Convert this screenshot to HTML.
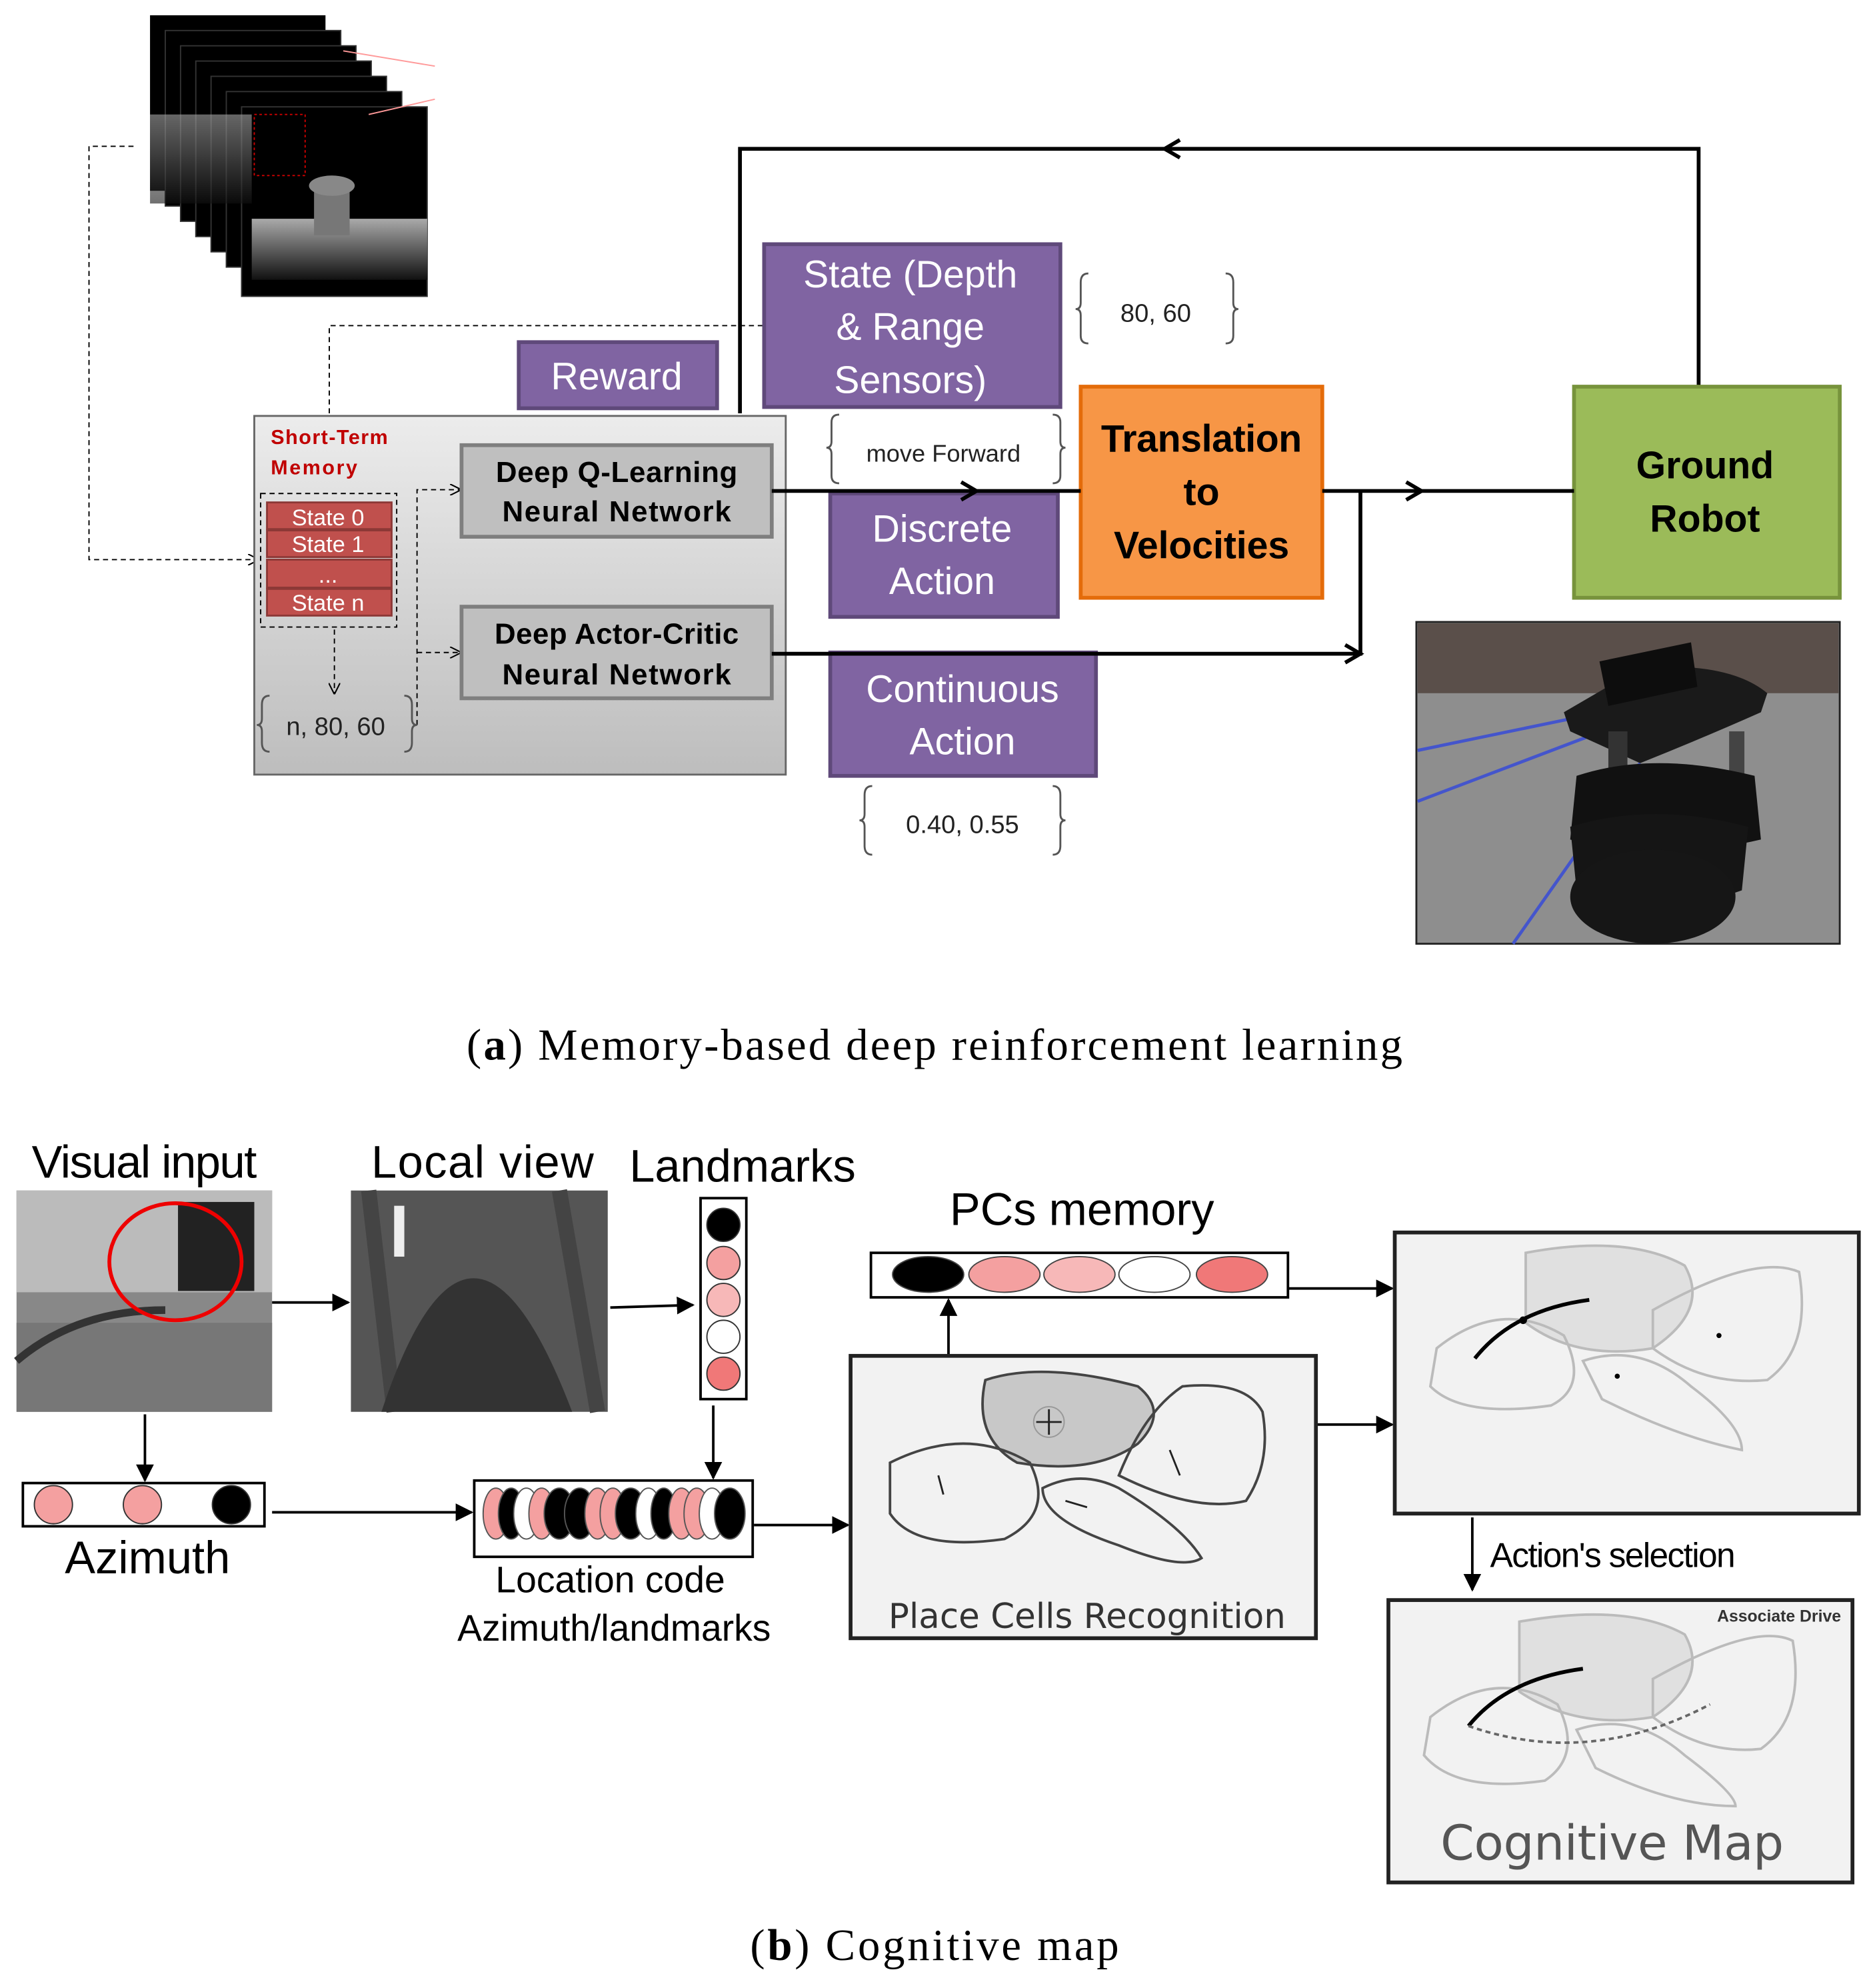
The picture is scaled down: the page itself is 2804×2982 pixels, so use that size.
<!DOCTYPE html>
<html><head><meta charset="utf-8"><style>html,body{margin:0;padding:0;background:#fff}svg{display:block}</style></head>
<body>
<svg width="2804" height="2982" viewBox="0 0 1470 1563" preserveAspectRatio="none" xmlns="http://www.w3.org/2000/svg" font-family="Liberation Sans, sans-serif">
<defs>
<linearGradient id="gg" x1="0" y1="0" x2="0" y2="1"><stop offset="0" stop-color="#ececec"/><stop offset="1" stop-color="#bdbdbd"/></linearGradient>
<linearGradient id="fl" x1="0" y1="0" x2="0" y2="1"><stop offset="0" stop-color="#aaa"/><stop offset="1" stop-color="#111"/></linearGradient>
<marker id="ah" viewBox="0 0 10 10" refX="9" refY="5" markerWidth="7" markerHeight="7" orient="auto"><path d="M0,0L10,5L0,10z" fill="#000"/></marker>
<marker id="ao" viewBox="0 0 10 10" refX="9" refY="5" markerWidth="9" markerHeight="9" orient="auto"><path d="M0,0L10,5L0,10" fill="none" stroke="#000" stroke-width="1.2"/></marker>
</defs>
<!-- depth stack -->
<g>
<rect x="118" y="12" width="138" height="138" fill="#000"/>
<rect x="130" y="24" width="138" height="138" fill="#000" stroke="#333"/>
<rect x="142" y="36" width="138" height="138" fill="#000" stroke="#333"/>
<rect x="154" y="48" width="138" height="138" fill="#000" stroke="#333"/>
<rect x="166" y="60" width="138" height="138" fill="#000" stroke="#333"/>
<rect x="178" y="72" width="138" height="138" fill="#000" stroke="#333"/>
<rect x="190" y="84" width="146" height="149" fill="#000" stroke="#333"/>
<rect x="118" y="90" width="80" height="70" fill="url(#fl)" opacity="0.6"/>
<rect x="198" y="172" width="138" height="48" fill="url(#fl)"/>
<rect x="247" y="145" width="28" height="40" fill="#777"/>
<ellipse cx="261" cy="146" rx="18" ry="8" fill="#888"/>
<rect x="200" y="90" width="40" height="48" fill="none" stroke="#c00" stroke-dasharray="2,2"/>
<line x1="270" y1="40" x2="342" y2="52" stroke="#f99"/>
<line x1="290" y1="90" x2="342" y2="78" stroke="#f99"/>
</g>
<path d="M105,115H70V440H203" fill="none" stroke="#000" stroke-dasharray="4,3" marker-end="url(#ao)"/>
<path d="M600,256H259V395" fill="none" stroke="#000" stroke-dasharray="4,3" marker-end="url(#ao)"/>
<path d="M582,325V117H1336V303" fill="none" stroke="#000" stroke-width="3"/>
<path d="M928,110L916,117L928,124" fill="none" stroke="#000" stroke-width="3"/>
<rect x="200" y="327" width="418" height="282" fill="url(#gg)" stroke="#666" stroke-width="1.5"/>
<text x="213" y="349" font-size="16" font-weight="bold" fill="#c00000" textLength="92">Short-Term</text>
<text x="213" y="373" font-size="16" font-weight="bold" fill="#c00000" textLength="68">Memory</text>
<rect x="205" y="388" width="107" height="105" fill="none" stroke="#000" stroke-dasharray="4,3"/>
<g fill="#c0504d" stroke="#8c3836" stroke-width="1.5">
<rect x="210" y="395" width="98" height="21"/><rect x="210" y="417" width="98" height="21"/>
<rect x="210" y="440" width="98" height="22"/><rect x="210" y="463" width="98" height="21"/></g>
<g fill="#fff" font-size="18" text-anchor="middle">
<text x="258" y="413">State 0</text><text x="258" y="434">State 1</text><text x="258" y="458">...</text><text x="258" y="480">State n</text></g>
<line x1="263" y1="495" x2="263" y2="545" stroke="#000" stroke-dasharray="4,3" marker-end="url(#ao)"/>
<path d="M328,570V385H362" fill="none" stroke="#000" stroke-dasharray="4,3" marker-end="url(#ao)"/>
<path d="M328,513H362" fill="none" stroke="#000" stroke-dasharray="4,3" marker-end="url(#ao)"/>
<text x="264" y="578" font-size="20" text-anchor="middle" fill="#222">n, 80, 60</text>
<rect x="363" y="350" width="244" height="72" fill="#bfbfbf" stroke="#7f7f7f" stroke-width="3"/>
<rect x="363" y="477" width="244" height="72" fill="#bfbfbf" stroke="#7f7f7f" stroke-width="3"/>
<g font-size="23" font-weight="bold" text-anchor="middle" fill="#000">
<text x="485" y="379" textLength="190">Deep Q-Learning</text><text x="485" y="410" textLength="180">Neural Network</text>
<text x="485" y="506" textLength="192">Deep Actor-Critic</text><text x="485" y="538" textLength="180">Neural Network</text></g>
<g fill="#8064a2" stroke="#5f497a" stroke-width="3">
<rect x="601" y="192" width="233" height="128"/><rect x="408" y="269" width="156" height="52"/>
<rect x="653" y="388" width="179" height="97"/><rect x="653" y="513" width="209" height="97"/></g>
<g fill="#fff" font-size="30" text-anchor="middle">
<text x="716" y="226">State (Depth</text><text x="716" y="267">&amp; Range</text><text x="716" y="309">Sensors)</text>
<text x="485" y="306">Reward</text>
<text x="741" y="426">Discrete</text><text x="741" y="467">Action</text>
<text x="757" y="552">Continuous</text><text x="757" y="593">Action</text></g>
<!-- braces -->
<g fill="none" stroke="#555" stroke-width="1.5">
<path d="M856,215Q850,215 850,222V238Q850,243 846,243Q850,243 850,248V264Q850,270 856,270"/>
<path d="M964,215Q970,215 970,222V238Q970,243 974,243Q970,243 970,248V264Q970,270 964,270"/>
<path d="M660,326Q654,326 654,332V347Q654,352 650,352Q654,352 654,357V374Q654,380 660,380"/>
<path d="M828,326Q834,326 834,332V347Q834,352 838,352Q834,352 834,357V374Q834,380 828,380"/>
<path d="M686,618Q680,618 680,625V640Q680,645 676,645Q680,645 680,650V665Q680,672 686,672"/>
<path d="M828,618Q834,618 834,625V640Q834,645 838,645Q834,645 834,650V665Q834,672 828,672"/>
<path d="M212,547Q206,547 206,554V565Q206,570 202,570Q206,570 206,575V584Q206,591 212,591"/>
<path d="M318,547Q324,547 324,554V565Q324,570 328,570Q324,570 324,575V584Q324,591 318,591"/></g>
<text x="909" y="253" font-size="20" text-anchor="middle" fill="#222">80, 60</text>
<text x="742" y="363" font-size="19" text-anchor="middle" fill="#222">move Forward</text>
<text x="757" y="655" font-size="20" text-anchor="middle" fill="#222">0.40, 0.55</text>
<rect x="850" y="304" width="190" height="166" fill="#f79646" stroke="#e46c0a" stroke-width="3"/>
<g font-size="30" font-weight="bold" text-anchor="middle" fill="#000">
<text x="945" y="355" textLength="158">Translation</text><text x="945" y="397">to</text><text x="945" y="439" textLength="138">Velocities</text></g>
<rect x="1238" y="304" width="209" height="166" fill="#9bbb59" stroke="#77933c" stroke-width="3"/>
<g font-size="30" font-weight="bold" text-anchor="middle" fill="#000">
<text x="1341" y="376">Ground</text><text x="1341" y="418">Robot</text></g>
<line x1="607" y1="386" x2="850" y2="386" stroke="#000" stroke-width="3"/>
<path d="M756,379L768,386L756,393" fill="none" stroke="#000" stroke-width="3"/>
<line x1="1040" y1="386" x2="1238" y2="386" stroke="#000" stroke-width="3"/>
<path d="M1106,379L1118,386L1106,393" fill="none" stroke="#000" stroke-width="3"/>
<path d="M607,514H1070V386" fill="none" stroke="#000" stroke-width="3"/>
<path d="M1058,507L1070,514L1058,521" fill="none" stroke="#000" stroke-width="3"/>
<!-- robot image -->
<rect x="1114" y="489" width="333" height="253" fill="#8e8e8e" stroke="#222" stroke-width="1.5"/>
<rect x="1115" y="490" width="331" height="55" fill="#5a4f4a"/>
<path d="M1115,590L1260,560M1115,630L1260,575M1190,742L1290,600" stroke="#4455cc" stroke-width="2.5"/>
<path d="M1230,560L1290,525Q1360,520 1390,545L1385,560Q1340,580 1290,600L1235,575Z" fill="#1a1a1a"/>
<path d="M1258,520L1330,505L1335,540L1265,555Z" fill="#0d0d0d"/>
<rect x="1265" y="575" width="15" height="80" fill="#333"/><rect x="1360" y="575" width="12" height="80" fill="#444"/>
<path d="M1240,610Q1300,590 1380,610L1385,660Q1300,680 1235,660Z" fill="#111"/>
<path d="M1235,650Q1300,630 1375,650L1370,700Q1300,725 1240,700Z" fill="#151515"/>
<ellipse cx="1300" cy="705" rx="65" ry="37" fill="#161616"/>
<text x="735" y="833" font-family="Liberation Serif, serif" font-size="35" text-anchor="middle" textLength="736">(<tspan font-weight="bold">a</tspan>) Memory-based deep reinforcement learning</text>
<!-- part b -->
<g font-size="36" fill="#000">
<text x="25" y="926" textLength="177">Visual input</text><text x="292" y="926" textLength="175">Local view</text><text x="495" y="929">Landmarks</text>
<text x="851" y="963" text-anchor="middle">PCs memory</text>
<text x="116" y="1237" text-anchor="middle">Azimuth</text>
<text x="1272" y="1183" text-anchor="middle">Transitions</text></g>
<rect x="13" y="936" width="201" height="174" fill="#888"/>
<rect x="13" y="936" width="201" height="80" fill="#bbb"/>
<rect x="140" y="945" width="60" height="70" fill="#222"/>
<rect x="13" y="1040" width="201" height="70" fill="#777"/>
<path d="M13,1070Q60,1030 130,1030" stroke="#333" stroke-width="6" fill="none"/>
<ellipse cx="138" cy="992" rx="52" ry="46" fill="none" stroke="#e00" stroke-width="3"/>
<rect x="276" y="936" width="202" height="174" fill="#555"/>
<path d="M290,936L310,1110M440,936L470,1110" stroke="#444" stroke-width="12"/>
<path d="M300,1110Q370,900 450,1110" fill="#333"/>
<rect x="310" y="948" width="8" height="40" fill="#eee"/>
<rect x="551" y="942" width="36" height="158" fill="#fff" stroke="#000" stroke-width="2"/>
<g stroke="#333"><circle cx="569" cy="963" r="13" fill="#000"/><circle cx="569" cy="993" r="13" fill="#f4a0a0"/>
<circle cx="569" cy="1022" r="13" fill="#f7b8b8"/><circle cx="569" cy="1051" r="13" fill="#fff"/><circle cx="569" cy="1080" r="13" fill="#f07878"/></g>
<rect x="18" y="1166" width="190" height="34" fill="#fff" stroke="#000" stroke-width="2"/>
<g stroke="#333"><circle cx="42" cy="1183" r="15" fill="#f4a0a0"/><circle cx="112" cy="1183" r="15" fill="#f4a0a0"/><circle cx="182" cy="1183" r="15" fill="#000"/></g>
<rect x="373" y="1164" width="219" height="60" fill="#fff" stroke="#000" stroke-width="2"/>
<g stroke="#555">
<ellipse cx="390" cy="1190" rx="10" ry="20" fill="#f4a0a0"/><ellipse cx="402" cy="1190" rx="10" ry="20" fill="#000"/>
<ellipse cx="414" cy="1190" rx="10" ry="20" fill="#fff"/><ellipse cx="426" cy="1190" rx="10" ry="20" fill="#f4a0a0"/>
<ellipse cx="440" cy="1190" rx="12" ry="20" fill="#000"/><ellipse cx="456" cy="1190" rx="12" ry="20" fill="#000"/>
<ellipse cx="470" cy="1190" rx="10" ry="20" fill="#f4a0a0"/><ellipse cx="482" cy="1190" rx="10" ry="20" fill="#f4a0a0"/>
<ellipse cx="496" cy="1190" rx="12" ry="20" fill="#000"/><ellipse cx="510" cy="1190" rx="10" ry="20" fill="#fff"/>
<ellipse cx="522" cy="1190" rx="10" ry="20" fill="#000"/><ellipse cx="536" cy="1190" rx="10" ry="20" fill="#f4a0a0"/>
<ellipse cx="548" cy="1190" rx="10" ry="20" fill="#f4a0a0"/><ellipse cx="560" cy="1190" rx="10" ry="20" fill="#fff"/>
<ellipse cx="574" cy="1190" rx="12" ry="20" fill="#000"/></g>
<text x="480" y="1252" font-size="29" text-anchor="middle">Location code</text>
<text x="483" y="1290" font-size="29" text-anchor="middle">Azimuth/landmarks</text>
<rect x="685" y="985" width="328" height="35" fill="#fff" stroke="#000" stroke-width="2"/>
<g stroke="#444"><ellipse cx="730" cy="1002" rx="28" ry="14" fill="#000"/><ellipse cx="790" cy="1002" rx="28" ry="14" fill="#f4a0a0"/>
<ellipse cx="849" cy="1002" rx="28" ry="14" fill="#f7b8b8"/><ellipse cx="908" cy="1002" rx="28" ry="14" fill="#fff"/><ellipse cx="969" cy="1002" rx="28" ry="14" fill="#f07878"/></g>
<g stroke="#000" stroke-width="2" marker-end="url(#ah)" fill="none">
<line x1="214" y1="1024" x2="274" y2="1024"/><line x1="480" y1="1028" x2="545" y2="1026"/>
<line x1="114" y1="1112" x2="114" y2="1164"/><line x1="561" y1="1105" x2="561" y2="1162"/>
<line x1="214" y1="1189" x2="371" y2="1189"/><line x1="593" y1="1199" x2="667" y2="1199"/>
<line x1="746" y1="1065" x2="746" y2="1022"/><line x1="1013" y1="1013" x2="1095" y2="1013"/>
<line x1="1035" y1="1120" x2="1095" y2="1120"/><line x1="1158" y1="1193" x2="1158" y2="1250"/></g>
<rect x="669" y="1066" width="366" height="222" fill="#f2f2f2" stroke="#222" stroke-width="3"/>
<g stroke="#444" stroke-width="2">
<path d="M775,1085Q820,1070 895,1090Q920,1110 895,1135Q860,1160 800,1150Q765,1130 775,1085Z" fill="#c8c8c8"/>
<path d="M700,1150Q760,1120 810,1150Q830,1190 790,1210Q720,1220 700,1190Z" fill="none"/>
<path d="M880,1160Q900,1110 930,1090Q980,1085 993,1110Q1000,1150 980,1180Q940,1190 880,1160Z" fill="none"/>
<path d="M820,1170Q850,1155 880,1170Q930,1200 945,1225Q930,1235 880,1215Q820,1195 820,1170Z" fill="none"/></g>
<g stroke="#222" stroke-width="1.5"><path d="M815,1118L835,1118M825,1108L825,1128M738,1160L742,1175M920,1140L928,1160M838,1180L855,1185"/></g>
<circle cx="825" cy="1118" r="12" fill="none" stroke="#999"/>
<text x="855" y="1280" font-size="27" text-anchor="middle" fill="#333" font-family="DejaVu Sans, sans-serif">Place Cells Recognition</text>
<rect x="1097" y="969" width="365" height="221" fill="#f2f2f2" stroke="#222" stroke-width="3"/>
<g stroke="#bbb" stroke-width="2" fill="none">
<path d="M1200,985Q1280,970 1325,995Q1345,1030 1300,1060Q1240,1070 1200,1040Z" fill="#e0e0e0"/>
<path d="M1130,1060Q1180,1020 1230,1050Q1250,1090 1220,1105Q1150,1115 1125,1090Z"/>
<path d="M1300,1030Q1380,985 1415,1000Q1425,1060 1390,1085Q1340,1090 1300,1060Z"/>
<path d="M1245,1070Q1290,1055 1330,1090Q1370,1120 1370,1140Q1320,1130 1260,1100Z"/></g>
<path d="M1160,1068Q1190,1030 1250,1022" stroke="#000" stroke-width="3" fill="none"/>
<circle cx="1198" cy="1038" r="3"/><circle cx="1352" cy="1050" r="2"/><circle cx="1272" cy="1082" r="2"/>
<text x="1172" y="1232" font-size="27" textLength="193">Action's selection</text>
<rect x="1092" y="1258" width="365" height="222" fill="#f2f2f2" stroke="#222" stroke-width="3"/>
<g stroke="#bbb" stroke-width="2" fill="none">
<path d="M1195,1275Q1280,1260 1325,1285Q1345,1320 1300,1350Q1240,1360 1195,1330Z" fill="#e0e0e0"/>
<path d="M1125,1350Q1175,1310 1225,1340Q1245,1380 1215,1400Q1145,1410 1120,1380Z"/>
<path d="M1300,1320Q1380,1275 1410,1290Q1420,1350 1385,1375Q1340,1380 1300,1350Z"/>
<path d="M1240,1360Q1285,1345 1325,1380Q1365,1410 1365,1420Q1315,1420 1255,1390Z"/></g>
<path d="M1155,1357Q1185,1320 1245,1312" stroke="#000" stroke-width="3" fill="none"/>
<path d="M1155,1357Q1250,1390 1345,1340" stroke="#666" stroke-width="2" stroke-dasharray="4,3" fill="none"/>
<text x="1448" y="1275" font-size="13" font-weight="bold" text-anchor="end" fill="#333">Associate Drive</text>
<text x="1268" y="1462" font-size="38" text-anchor="middle" fill="#555" font-family="DejaVu Sans, sans-serif" textLength="270">Cognitive Map</text>
<text x="735" y="1541" font-family="Liberation Serif, serif" font-size="35" text-anchor="middle" textLength="290">(<tspan font-weight="bold">b</tspan>) Cognitive map</text>
</svg>
</body></html>
